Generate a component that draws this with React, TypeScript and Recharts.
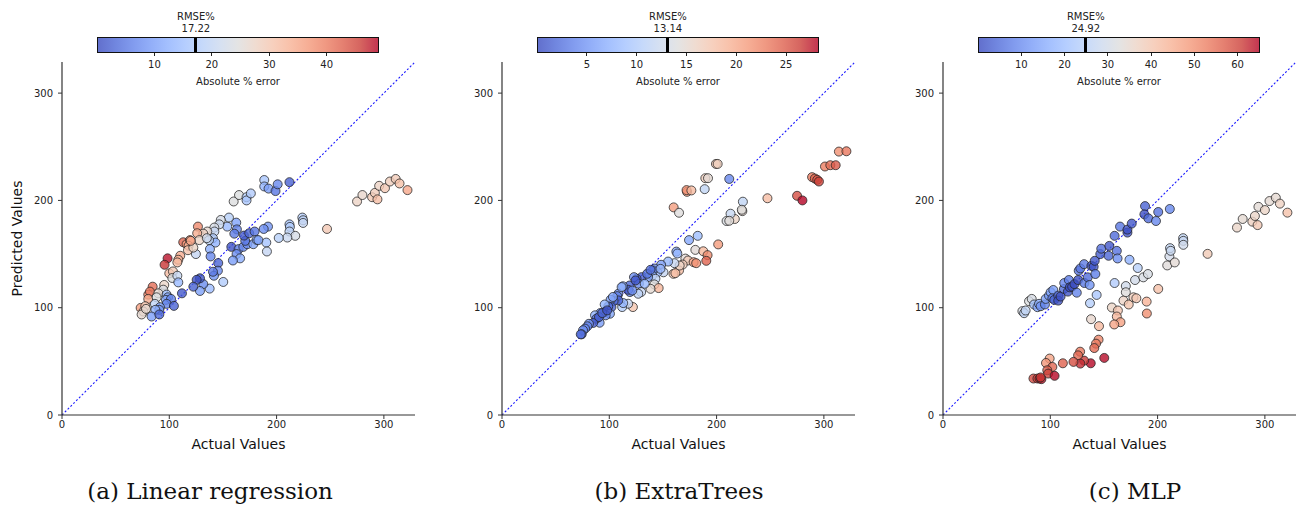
import React from 'react'
import { ScatterChart, Scatter, XAxis, YAxis, ReferenceLine } from 'recharts'

// shared axis setup for all three panels
const AXIS_TICKS = [0, 100, 200, 300]
const AXIS_MAX = 329

// [actual, predicted]
const LINEAR_POINTS: [number, number][] = [
  [188.5, 219], [188.5, 213], [192.5, 211], [199, 208.7], [201, 215], [212, 217],
  [160, 199], [165, 205], [172, 203], [172, 200], [176, 206.5],
  [275, 199], [280, 205], [289, 203], [291.6, 207], [294, 201], [295.6, 213.6],
  [301, 211.4], [305.6, 217.6], [311, 220], [314.6, 215.8], [322, 209.6], [247, 173.4],
  [224, 184], [224.7, 181.5], [224.7, 179], [212, 177.7], [212.4, 175.3], [212, 171],
  [217.4, 167], [210, 165.4], [202, 165], [192, 175.6], [188, 173.4], [190.4, 160.7], [191, 152.4],
  [162.4, 179.3], [163, 173], [160.6, 169], [154, 175.6], [155.6, 184], [148, 181.8],
  [146.6, 177.7], [142, 174.7], [142, 171], [140.7, 164.8], [143, 160.7], [137, 163],
  [137.9, 154.6], [138.5, 147.8], [124.8, 150], [135.4, 171], [131.7, 169], [126.7, 175.6],
  [126, 169.4], [128, 163], [135, 164.8], [157.8, 156.7], [164.6, 154.6], [162.7, 150],
  [166, 146], [159.3, 144], [169, 156.7], [172.7, 159.2], [170.8, 162.3], [169.6, 167.2],
  [174.5, 169.4], [179.5, 171], [178.3, 159.2], [181.4, 163.2], [183, 163],
  [145.6, 141.6], [145.3, 134.5], [141.6, 129.8], [140.7, 133.5], [150.3, 124], [137.6, 117.8],
  [131.7, 122], [128.6, 115.6], [128.6, 127.4], [125.5, 126], [122.4, 119.6], [111.8, 113.4],
  [113, 161], [116.1, 159.2], [119.3, 163], [118, 157.7], [117.4, 153.6], [122.4, 156], [120, 162.3],
  [98.4, 146], [95.6, 140], [110.2, 148.4], [108.4, 144.7], [107.5, 142.2],
  [100, 132], [103.4, 133.8], [102.8, 127.7], [107.5, 129.8], [108.4, 123.6],
  [95.3, 121.2], [94.4, 116.8], [84.5, 119.6], [80.4, 112.2], [82, 115], [80.4, 108.2],
  [89.8, 113.4], [88.2, 109.7], [86.6, 103.6], [97.5, 112.2], [98.8, 109.7], [96.9, 107.3],
  [101.6, 108.2], [97.5, 103.6], [104.3, 101.7], [91.3, 100.5], [90.7, 98], [87, 98],
  [83.5, 91.8], [90.7, 93.7], [73.3, 99.8], [77.6, 101.4], [75.8, 96.4], [74.2, 93.7], [78.3, 98.9],
]

const EXTRATREES_POINTS: [number, number][] = [
  [199.4, 234], [201, 234], [189.5, 220.7], [192, 220.7], [188.9, 210.5], [172.4, 208],
  [172, 209.6], [176.5, 209.3], [211.8, 220], [160, 193.5], [165, 188.5],
  [224.5, 198.8], [224, 190], [223.5, 191.3], [217, 182.7], [213, 187.6], [209.3, 180.8], [211.8, 181],
  [247.4, 202], [275, 204.3], [280, 200], [289, 221.7], [291.6, 220.4], [293.8, 219.2], [295.4, 217.6],
  [301, 231.6], [306, 232.8], [311, 232.8], [314, 245.5], [321, 245.8],
  [174.3, 163], [182.4, 167], [201.5, 159], [162.5, 152.3], [163.4, 150.5], [180.2, 153.9],
  [187.6, 152.6], [191.6, 149], [190.4, 143.7], [170.9, 145.8], [173.4, 144], [178.6, 142.4],
  [181, 141.5], [168.4, 140.2], [165, 134.7], [159.8, 131.6], [161.6, 132.2], [165.6, 139.3],
  [160.7, 141.5], [154.8, 143], [148.3, 140], [150.5, 133], [144.9, 133], [142.4, 136.5],
  [140.6, 134.7], [140, 130], [143, 127], [142, 121.7], [146, 118.3], [138.4, 117.6],
  [136.2, 128.5], [130, 128.5], [125.4, 127], [127.6, 122.3], [129.7, 114.6], [123, 128.5],
  [133, 122.3], [118.9, 120.7], [119.2, 114.6], [117.6, 116.7], [112.7, 120], [122, 100.6],
  [117.6, 103.7], [112, 100.6], [113, 104.3], [108.4, 113], [107.4, 110.8], [108.4, 106.8],
  [104, 106.2], [101.2, 107.4], [102, 100.6], [99, 101.2], [95.7, 103], [96, 96],
  [100.6, 94.4], [96.6, 92.9], [91.6, 95], [91, 86], [86.7, 92.9], [88, 89.8], [85, 85.8],
  [81, 85], [79.6, 82.7], [77.4, 80.5], [75.5, 79], [74.3, 75.2], [73.4, 75.2],
  [90.4, 91.3], [93.5, 95], [98, 97.5], [103.4, 110], [111.5, 119.2], [135.3, 131.6],
  [138.4, 135.3], [147.7, 136.2], [127, 113], [124.5, 125.4], [121.4, 116],
]

const MLP_POINTS: [number, number][] = [
  [74, 96.8], [75.6, 94.9], [77, 97.4], [80.2, 106], [82.7, 108.2], [84.9, 103], [88, 100.5],
  [89.5, 103.6], [91, 101.4], [95, 103], [95.7, 108.2], [98.8, 111.3], [100.3, 114.4],
  [102.8, 116.5], [101.9, 108.8], [103.7, 107.3], [107.4, 111.3], [107.4, 106.6], [109.6, 110.4],
  [112.7, 117.5], [113, 123], [117.3, 125.8], [116.4, 115], [118.2, 119], [120.4, 119.6],
  [122.5, 122], [125.9, 125.8], [124.7, 114], [126.5, 134.5], [128, 136.6], [131.5, 140.6],
  [131.8, 123], [134.9, 128.3], [136.7, 121.2], [138.3, 139], [140.4, 138.2], [141.4, 143.7],
  [142, 131.4], [146.6, 150], [147.5, 155], [154.3, 148.4], [155, 157.6], [162, 153],
  [162.7, 145.9], [159.9, 167], [165, 175.6], [171.9, 170], [171.9, 172.8], [175.9, 178.4],
  [188.3, 194.7], [187.7, 187], [191.4, 183.3], [198.5, 180.8], [200.6, 189.2], [211.4, 192],
  [173.8, 144.7], [181.5, 137], [179, 125.8], [186.7, 128.3], [191, 131.4], [159.9, 123],
  [170.4, 120.2], [170.4, 114.4], [143.2, 111.9], [137, 104.2], [209, 139.4], [211, 147.8],
  [211.6, 155.5], [212.2, 153], [216, 142.2], [223.8, 164.8], [224, 162.3], [224, 158.6],
  [246.6, 150.2], [274, 174.7], [279.3, 182.7], [288.3, 180.2], [290.7, 185.5], [293.2, 177],
  [294, 194], [300, 191], [304.3, 199.4], [310.2, 202.5], [314, 197], [321, 188.6],
  [200.6, 117.5], [168.2, 106.6], [173.1, 103], [177.5, 109.7], [180.2, 108.8], [189.8, 105.7],
  [190, 94.6], [157.4, 100.2], [163, 97.4], [162, 91.8], [165.4, 86.5], [159.6, 84.4],
  [138, 89.3], [145.4, 82.8], [145, 70.2], [142.6, 66.5], [141, 62.4], [150.3, 53.2],
  [137.7, 48.2], [131.5, 50.7], [127.8, 59], [125.9, 55.6], [128, 47.9], [121.6, 49.5],
  [111.7, 48.2], [99.4, 52.6], [96, 48.5], [101.9, 44.8], [97.2, 41.7], [98, 38.6], [104, 36.5],
  [84.3, 34], [88, 34], [90, 34], [91.7, 33.4], [91, 35],
]

// colorbar values
const LINEAR_CBAR_TICKS = [10, 20, 30, 40]
const EXTRATREES_CBAR_TICKS = [5, 10, 15, 20, 25]
const MLP_CBAR_TICKS = [10, 20, 30, 40, 50, 60]
const RMSE = { linear: 17.22, extratrees: 13.14, mlp: 24.92 }
const ERR_MAX = { linear: 49.1, extratrees: 28.3, mlp: 65.2 }

const COOLWARM = [
  [59, 76, 192], [77, 104, 215], [98, 130, 234], [119, 154, 247], [141, 176, 254],
  [163, 194, 255], [184, 208, 249], [204, 217, 238], [221, 221, 221], [236, 211, 197],
  [245, 196, 173], [247, 177, 148], [244, 154, 123], [236, 127, 99], [222, 96, 77],
  [203, 62, 56], [180, 4, 38],
]

function coolwarm(t: number) {
  const c = Math.max(0, Math.min(1, t)) * (COOLWARM.length - 1)
  const i = Math.min(Math.floor(c), COOLWARM.length - 2)
  const f = c - i
  const a = COOLWARM[i], b = COOLWARM[i + 1]
  const mix = (k: number) => Math.round(a[k] + (b[k] - a[k]) * f)
  return `rgb(${mix(0)},${mix(1)},${mix(2)})`
}

const FONT = '"DejaVu Sans", sans-serif'
const CB_LEFT = 97
const CB_W = 282

function Colorbar({ vmax, rmse, ticks }: { vmax: number; rmse: number; ticks: number[] }) {
  const grad = COOLWARM.map((c, i) => `rgb(${c.join(',')}) ${(i / (COOLWARM.length - 1)) * 100}%`).join(', ')
  const mx = CB_LEFT + (rmse / vmax) * CB_W
  const txt: React.CSSProperties = { position: 'absolute', fontFamily: FONT, fontSize: 10, lineHeight: '12px', color: '#222', whiteSpace: 'nowrap', transform: 'translateX(-50%)' }
  return (
    <>
      <div style={{ ...txt, left: mx, top: 11 }}>RMSE%</div>
      <div style={{ ...txt, left: mx, top: 23 }}>{rmse.toFixed(2)}</div>
      <div style={{ position: 'absolute', left: CB_LEFT, top: 37, width: CB_W, height: 16, boxSizing: 'border-box', border: '1px solid #111' }}>
        <div style={{ position: 'absolute', inset: 0, background: `linear-gradient(to right, ${grad})`, opacity: 0.8 }} />
        <div style={{ position: 'absolute', left: mx - CB_LEFT - 2.5, top: 0, width: 3, height: '100%', background: '#000' }} />
      </div>
      {ticks.map(t => {
        const x = CB_LEFT + (t / vmax) * CB_W
        return (
          <React.Fragment key={t}>
            <div style={{ position: 'absolute', left: x - 0.5, top: 53, width: 1, height: 3, background: '#222' }} />
            <div style={{ ...txt, left: x, top: 59 }}>{t}</div>
          </React.Fragment>
        )
      })}
      <div style={{ ...txt, left: CB_LEFT + CB_W / 2, top: 76 }}>Absolute % error</div>
    </>
  )
}

type PanelProps = {
  left: number
  points: [number, number][]
  vmax: number
  rmse: number
  cbarTicks: number[]
  caption: string
  captionX: number
  yLabel?: boolean
}

function Panel({ left, points, vmax, rmse, cbarTicks, caption, captionX, yLabel }: PanelProps) {
  const data = points.map(([x, y]) => ({ x, y, err: (Math.abs(y - x) / x) * 100 }))
  const tick = { fontSize: 10, fill: '#222', fontFamily: FONT }
  return (
    <div style={{ position: 'absolute', left, top: 0, width: 430, height: 507 }}>
      <Colorbar vmax={vmax} rmse={rmse} ticks={cbarTicks} />
      <div style={{ position: 'absolute', left: 0, top: 0 }}>
        <ScatterChart width={430} height={470} margin={{ top: 62, right: 15, bottom: 0, left: 0 }}>
          <XAxis
            type="number" dataKey="x" domain={[0, AXIS_MAX]} ticks={AXIS_TICKS} height={55}
            axisLine={{ stroke: '#333', strokeWidth: 1.2 }} tickLine={{ stroke: '#333' }} tickSize={4} tickMargin={2}
            tick={tick}
            label={{ value: 'Actual Values', position: 'insideTop', offset: 24, style: { fontSize: 14, fill: '#111', fontFamily: FONT } }}
          />
          <YAxis
            type="number" dataKey="y" domain={[0, AXIS_MAX]} ticks={AXIS_TICKS} width={62}
            axisLine={{ stroke: '#333', strokeWidth: 1.2 }} tickLine={{ stroke: '#333' }} tickSize={4} tickMargin={5}
            tick={tick}
            label={yLabel ? { value: 'Predicted Values', angle: -90, position: 'insideLeft', offset: 17, style: { textAnchor: 'middle', fontSize: 14, fill: '#111', fontFamily: FONT } } : undefined}
          />
          <ReferenceLine segment={[{ x: 0, y: 0 }, { x: AXIS_MAX, y: AXIS_MAX }]} stroke="#1a1aff" strokeDasharray="2 2" strokeWidth={1.1} />
          <Scatter
            data={data}
            isAnimationActive={false}
            shape={(p: any) => (
              <circle cx={p.cx} cy={p.cy} r={4.5} fill={coolwarm(p.payload.err / vmax)} fillOpacity={0.8} stroke="#222" strokeOpacity={0.75} strokeWidth={1} />
            )}
          />
        </ScatterChart>
      </div>
      <div style={{ position: 'absolute', left: captionX, top: 478, transform: 'translateX(-50%)', whiteSpace: 'nowrap', fontFamily: '"DejaVu Serif", serif', fontSize: 23, color: '#111' }}>
        {caption}
      </div>
    </div>
  )
}

export default function App() {
  return (
    <div style={{ position: 'absolute', left: 0, top: 0, width: 1297, height: 507, overflow: 'hidden', background: '#fff' }}>
      <Panel left={0} points={LINEAR_POINTS} vmax={ERR_MAX.linear} rmse={RMSE.linear} cbarTicks={LINEAR_CBAR_TICKS} caption="(a) Linear regression" captionX={210} yLabel />
      <Panel left={440} points={EXTRATREES_POINTS} vmax={ERR_MAX.extratrees} rmse={RMSE.extratrees} cbarTicks={EXTRATREES_CBAR_TICKS} caption="(b) ExtraTrees" captionX={239} />
      <Panel left={881} points={MLP_POINTS} vmax={ERR_MAX.mlp} rmse={RMSE.mlp} cbarTicks={MLP_CBAR_TICKS} caption="(c) MLP" captionX={254} />
    </div>
  )
}
